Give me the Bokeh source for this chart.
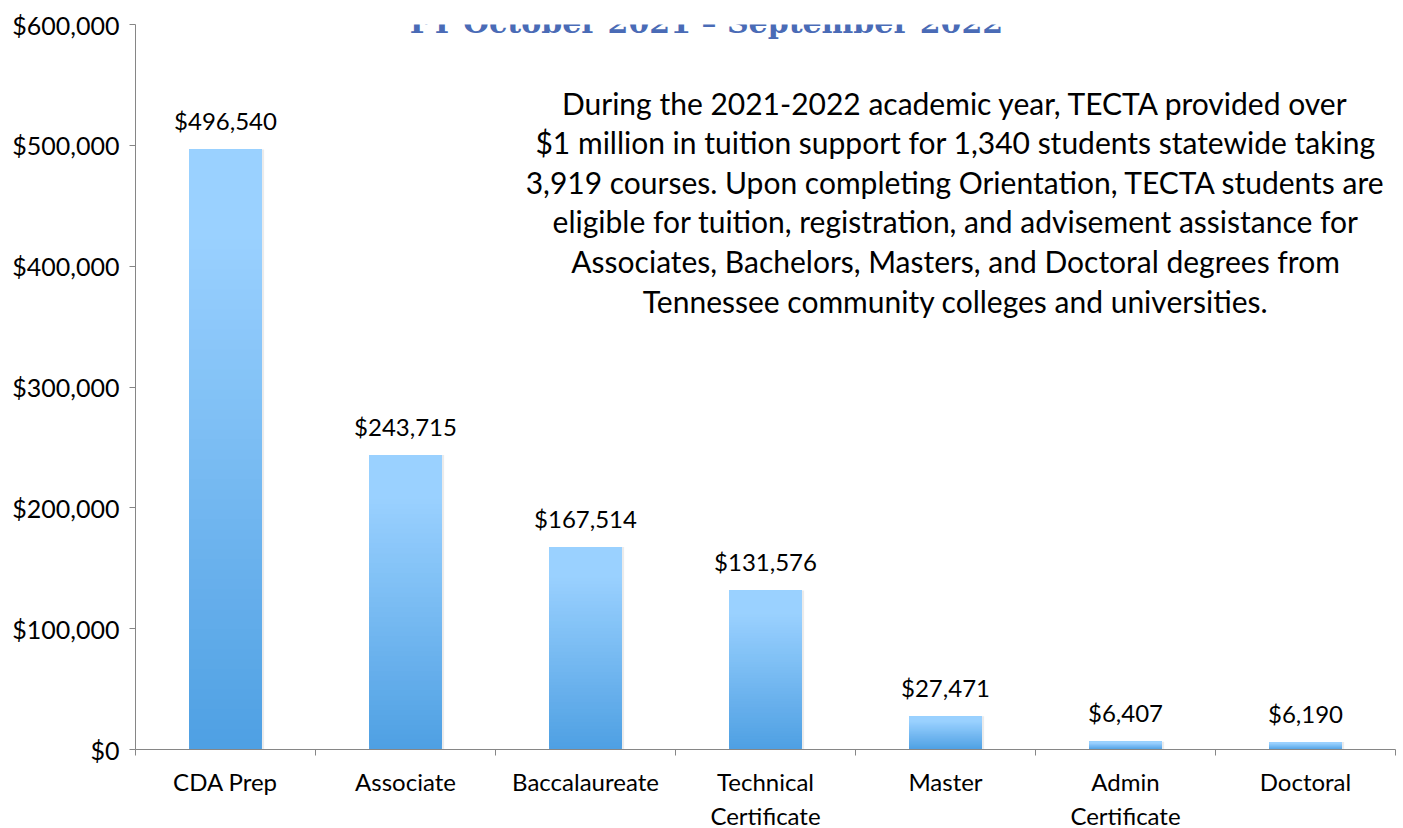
import numpy as np
from bokeh.plotting import figure
from bokeh.models import Range1d, FixedTicker, NumeralTickFormatter, Label, ColumnDataSource
from bokeh.core.properties import value
from bokeh.embed import file_html
from bokeh.resources import INLINE

categories = ["CDA Prep", "Associate", "Baccalaureate", "Technical\nCertificate",
              "Master", "Admin\nCertificate", "Doctoral"]
amounts = [496540, 243715, 167514, 131576, 27471, 6407, 6190]
value_labels = ["$496,540", "$243,715", "$167,514", "$131,576", "$27,471", "$6,407", "$6,190"]
y_ticks = [0, 100000, 200000, 300000, 400000, 500000, 600000]
title_text = "FY October 2021 \u2013 September 2022"
note_lines = [
    "During the 2021-2022 academic year, TECTA provided over",
    "$1 million in tuition support for 1,340 students statewide taking",
    "3,919 courses. Upon completing Orientation, TECTA students are",
    "eligible for tuition, registration, and advisement assistance for",
    "Associates, Bachelors, Masters, and Doctoral degrees from",
    "Tennessee community colleges and universities.",
]

FONT = "Lato"
n = len(categories)
xs = np.arange(n) + 0.5

p = figure(frame_width=1260, frame_height=725, x_range=Range1d(0, n), y_range=Range1d(0, 600000),
           output_backend="svg", toolbar_location=None,
           min_border_left=135, min_border_right=8, min_border_top=24, min_border_bottom=79)
p.outline_line_color = None
p.xgrid.visible = False
p.ygrid.visible = False
p.background_fill_color = "white"
p.border_fill_color = "white"

# gradient bars built from stacked slices
N = 60
bot = np.array([0x4F, 0xA0, 0xE3], float)
top = np.array([0x9A, 0xD1, 0xFF], float)
rows = {"x": [], "bottom": [], "top": [], "color": []}
for i in range(N):
    f = i / N
    t = min(1.0, f / 0.85)
    c = bot + (top - bot) * t
    col = "#%02x%02x%02x" % tuple(int(round(v)) for v in c)
    for xv, v in zip(xs, amounts):
        rows["x"].append(xv)
        rows["bottom"].append(v * f)
        rows["top"].append(v)
        rows["color"].append(col)

# faint shadow
p.vbar(x=xs + 0.012, top=amounts, bottom=0, width=0.405, fill_color="#000000", fill_alpha=0.08,
       line_color=None)
p.vbar(x="x", bottom="bottom", top="top", width=0.405, fill_color="color", line_color=None,
       source=ColumnDataSource(rows))

# value labels
p.text(x=xs, y=amounts, text=value_labels, text_align="center", text_baseline="alphabetic",
       y_offset=-29, text_font=value(FONT), text_font_size="24px", text_color="#000000")

# annotation text
p.text(x=[4.556] * len(note_lines), y=[533793] * len(note_lines), text=note_lines,
       y_offset=list(np.arange(len(note_lines)) * 39.6 - 2), text_align="center",
       text_baseline="middle", text_font=value(FONT), text_font_size="30px", text_color="#000000")

# title
p.add_layout(Label(x=3.172, y=600000, text=title_text, text_align="center",
                   text_baseline="top", y_offset=20, text_font="DejaVu Serif",
                   text_font_style="bold", text_font_size="30px", text_color="#4A6BB6"))

# axes
ax = p.yaxis[0]
ax.ticker = FixedTicker(ticks=y_ticks)
ax.formatter = NumeralTickFormatter(format="$0,0")
ax.major_tick_in = 0
ax.major_tick_out = 6
ax.minor_tick_line_color = None
ax.axis_line_color = "#868686"
ax.major_tick_line_color = "#868686"
ax.major_label_text_font = FONT
ax.major_label_text_font_size = "25px"
ax.major_label_text_color = "#000000"
ax.major_label_standoff = 10

bx = p.xaxis[0]
bx.ticker = FixedTicker(ticks=list(xs), minor_ticks=list(range(n + 1)))
bx.major_label_overrides = {float(x): c for x, c in zip(xs, categories)}
bx.major_tick_line_color = None
bx.minor_tick_in = 0
bx.minor_tick_out = 6
bx.minor_tick_line_color = "#868686"
bx.axis_line_color = "#868686"
bx.major_label_text_font = FONT
bx.major_label_text_font_size = "24px"
bx.major_label_text_color = "#000000"
bx.major_label_standoff = 11

open("out.html", "w").write(file_html(p, INLINE))
